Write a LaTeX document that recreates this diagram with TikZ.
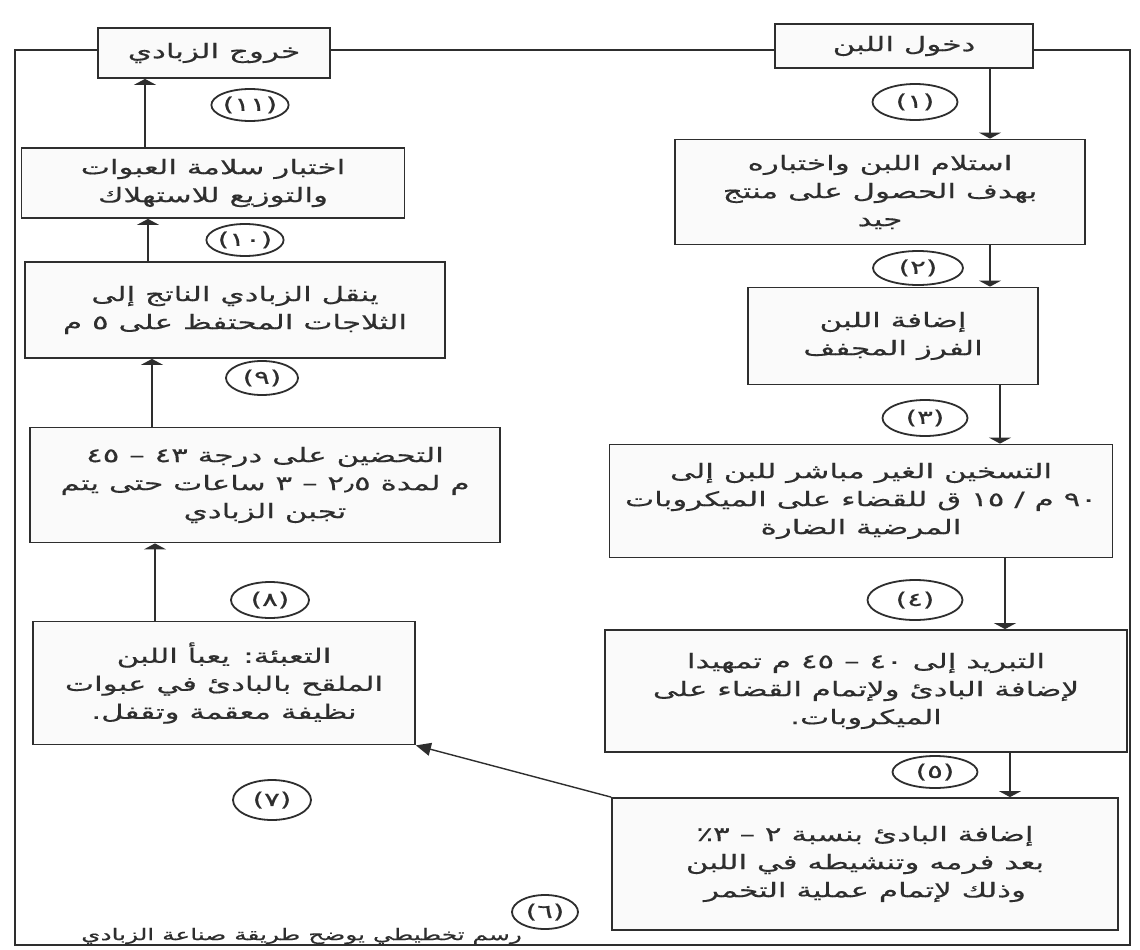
\documentclass[tikz,border=0pt]{standalone}
\usepackage{fontspec}
\usetikzlibrary{shapes.geometric,arrows.meta}
\TeXXeTstate=1
\newfontfamily\arabicfont[Script=Arabic,FakeStretch=1.55,FakeBold=0.4]{DejaVu Sans}
\newcommand{\ar}[1]{\beginR #1\endR}
\definecolor{ink}{gray}{0.18}
\begin{document}
\begin{tikzpicture}[x=1pt,y=-1pt,
  stepbox/.style={draw=ink,line width=1.8pt,fill=gray!4,align=center,text=ink,
    font=\arabicfont\fontsize{20}{28}\selectfont,inner sep=2pt},
  num/.style={draw=ink,line width=1.8pt,ellipse,inner sep=0pt,text=ink,
    font=\arabicfont\fontsize{19}{20}\selectfont},
  frame/.style={draw=ink,line width=2.2pt},
  flow/.style={draw=ink,line width=1.6pt,-{Triangle[width=22pt,length=6pt]}},
  diag/.style={draw=ink,line width=1.4pt,-{Triangle[width=13pt,length=15pt]}}]
\fill[white] (0,0) rectangle (1140,950);
\useasboundingbox (0,0) rectangle (1140,950);

% outer frame corners
\coordinate (bl) at (15,945);
\coordinate (br) at (1130,945);
\coordinate (inW) at (775,50);
\coordinate (inE) at (1033,50);
\coordinate (outW) at (98,50);
\coordinate (outE) at (330,50);
\draw[frame] (outW) -| (bl) -- (br) |- (inE);
\draw[frame] (outE) -- (inW);

% right column
\node[stepbox,minimum width=258pt,minimum height=44pt] (in) at (904,46) {\ar{دخول اللبن}};
\node[stepbox,minimum width=410pt,minimum height=105pt] (b1) at (880,192) {\ar{استلام اللبن واختباره}\\\ar{بهدف الحصول على منتج}\\\ar{جيد}};
\node[stepbox,minimum width=290pt,minimum height=97pt] (b2) at (893,336) {\ar{إضافة اللبن}\\\ar{الفرز المجفف}};
\node[stepbox,minimum width=503pt,minimum height=113pt] (b3) at (861,501) {\ar{التسخين الغير مباشر للبن إلى}\\\ar{٩٠ م / ١٥ ق للقضاء على الميكروبات}\\\ar{المرضية الضارة}};
\node[stepbox,minimum width=522pt,minimum height=122pt] (b4) at (866,691) {\ar{التبريد إلى ٤٠ – ٤٥ م تمهيدا}\\\ar{لإضافة البادئ ولإتمام القضاء على}\\\ar{الميكروبات.}};
\node[stepbox,minimum width=506pt,minimum height=132pt] (b5) at (865,864) {\ar{إضافة البادئ بنسبة ٢ – ٣٪}\\\ar{بعد فرمه وتنشيطه في اللبن}\\\ar{وذلك لإتمام عملية التخمر}};

% left column
\node[stepbox,minimum width=232pt,minimum height=50pt] (out) at (214,53) {\ar{خروج الزبادي}};
\node[stepbox,minimum width=383pt,minimum height=70pt] (b10) at (213,183) {\ar{اختبار سلامة العبوات}\\\ar{والتوزيع للاستهلاك}};
\node[stepbox,minimum width=420pt,minimum height=96pt] (b9) at (235,310) {\ar{ينقل الزبادي الناتج إلى}\\\ar{الثلاجات المحتفظ على ٥ م}};
\node[stepbox,minimum width=470pt,minimum height=115pt] (b8) at (265,485) {\ar{التحضين على درجة ٤٣ – ٤٥}\\\ar{م لمدة ٢٫٥ – ٣ ساعات حتى يتم}\\\ar{تجبن الزبادي}};
\node[stepbox,minimum width=382pt,minimum height=123pt] (b7) at (224,683) {\ar{التعبئة: يعبأ اللبن}\\\ar{الملقح بالبادئ في عبوات}\\\ar{نظيفة معقمة وتقفل.}};

% number labels
\node[num,minimum width=85pt,minimum height=36pt] (n1) at (915,102) {(١)};
\node[num,minimum width=90pt,minimum height=34pt] (n2) at (918,268) {(٢)};
\node[num,minimum width=85pt,minimum height=36pt] (n3) at (925,418) {(٣)};
\node[num,minimum width=95pt,minimum height=40pt] (n4) at (915,600) {(٤)};
\node[num,minimum width=85pt,minimum height=32pt] (n5) at (935,772) {(٥)};
\node[num,minimum width=66pt,minimum height=34pt] (n6) at (545,912) {(٦)};
\node[num,minimum width=78pt,minimum height=40pt] (n7) at (272,800) {(٧)};
\node[num,minimum width=78pt,minimum height=36pt] (n8) at (270,600) {(٨)};
\node[num,minimum width=72pt,minimum height=34pt] (n9) at (262,378) {(٩)};
\node[num,minimum width=75pt,minimum height=32pt] (n10) at (245,240) {(١٠)};
\node[num,minimum width=75pt,minimum height=32pt] (n11) at (250,105) {(١١)};

% caption
\node[anchor=east,text=ink,font=\arabicfont\fontsize{16}{17}\selectfont,inner sep=0pt] (cap) at (522,936) {\ar{رسم تخطيطي يوضح طريقة صناعة الزبادي}};

% flow arrows
\draw[flow] (in.south -| 990,0) -- (b1.north -| 990,0);
\draw[flow] (b1.south -| 990,0) -- (b2.north -| 990,0);
\draw[flow] (b2.south -| 1000,0) -- (b3.north -| 1000,0);
\draw[flow] (b3.south -| 1005,0) -- (b4.north -| 1005,0);
\draw[flow] (b4.south -| 1010,0) -- (b5.north -| 1010,0);
\draw[diag] (b5.north west) -- (b7.south east);
\draw[flow] (b7.north -| 155,0) -- (b8.south -| 155,0);
\draw[flow] (b8.north -| 152,0) -- (b9.south -| 152,0);
\draw[flow] (b9.north -| 148,0) -- (b10.south -| 148,0);
\draw[flow] (b10.north -| 145,0) -- (out.south -| 145,0);
\end{tikzpicture}
\end{document}
